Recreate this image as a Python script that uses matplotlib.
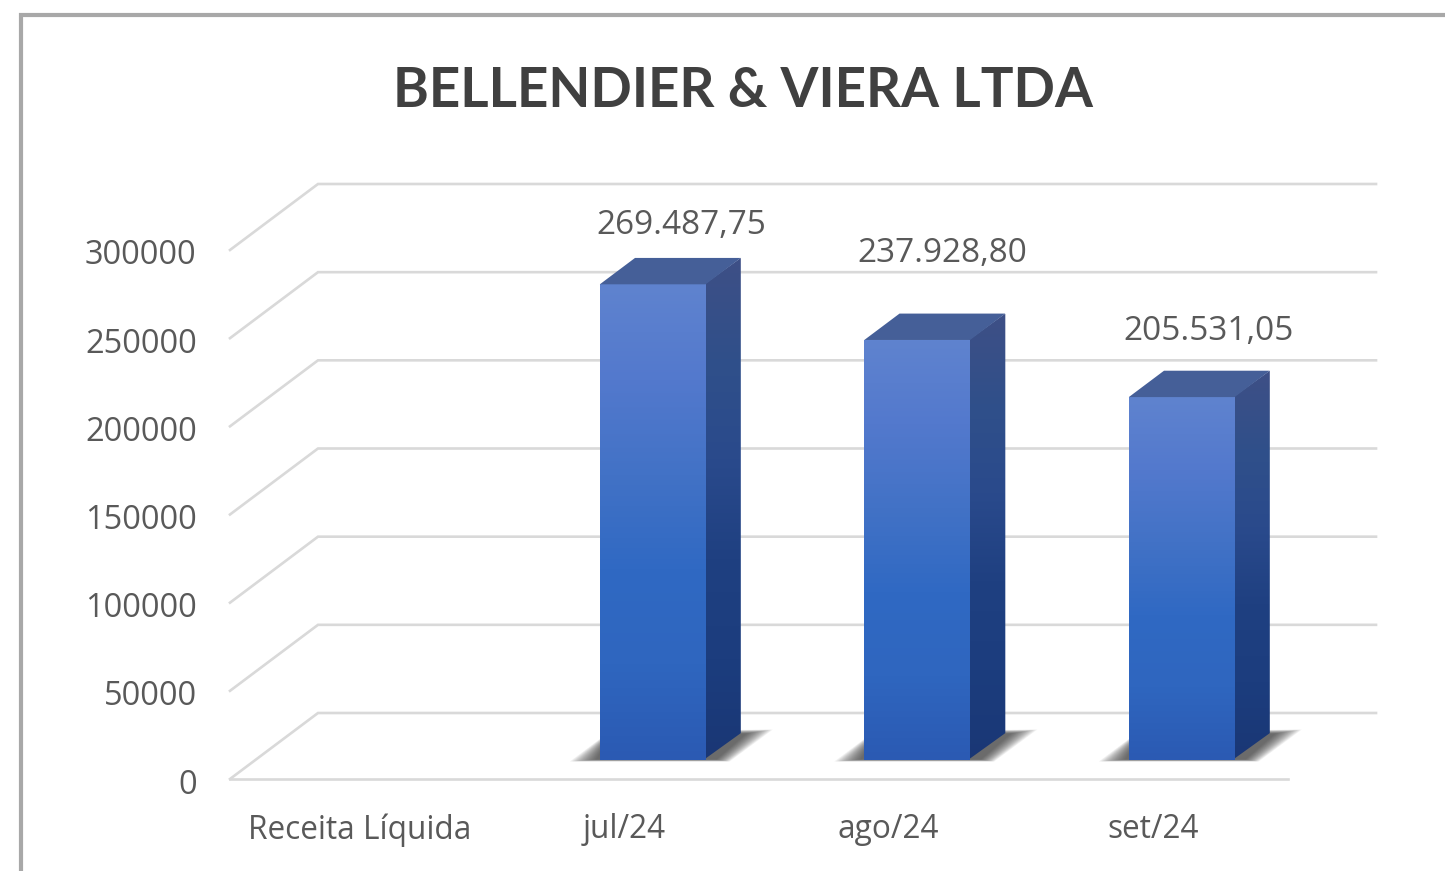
import numpy as np
import matplotlib
matplotlib.use("Agg")
import matplotlib.pyplot as plt
from matplotlib.colors import LinearSegmentedColormap
from matplotlib.lines import Line2D
from matplotlib.patches import Polygon
from matplotlib.transforms import Affine2D, IdentityTransform

TITLE = "BELLENDIER & VIERA LTDA"
categories = ["Receita Líquida", "jul/24", "ago/24", "set/24"]
values = [None, 269487.75, 237928.80, 205531.05]
value_labels = ["", "269.487,75", "237.928,80", "205.531,05"]
label_offsets = [(0, 0), (29, 59), (25, 86), (27, 66)]
yticks = [0, 50000, 100000, 150000, 200000, 250000, 300000]

W, H = 1445, 871
DEPTH = (88, 66)
BAR_START, BAR_SPAN = 0.295, 0.4
BAR_W = 0.4
GRID = "#d9d9d9"
TXT = "#595959"

fig = plt.figure(figsize=(W / 100, H / 100), dpi=100, facecolor="white")
ax = fig.add_axes([230 / W, (H - 779) / H, 1058 / W, 529 / H], facecolor="none")
ax.set_xlim(0, len(categories))
ax.set_ylim(0, 300000)
for s in ax.spines.values():
    s.set_visible(False)
ax.set_yticks(yticks, [str(t) for t in yticks], fontfamily="Open Sans", fontsize=23.5, color=TXT)
ax.set_xticks([i + 0.49 for i in range(len(categories))], categories,
              fontfamily="Open Sans", fontsize=22.8, color=TXT)
ax.tick_params(axis="y", length=0, pad=24)
ax.tick_params(axis="x", length=0, pad=24.5)
for lab in ax.get_yticklabels():
    lab.set_transform(lab.get_transform() + Affine2D().translate(0, -2))

px = IdentityTransform()


def disp(x, y):
    return ax.transData.transform((x, y))


# walls
xr = len(categories)
for t in yticks:
    p0 = disp(0, t)
    p1 = p0 + DEPTH
    p2 = disp(xr, t) + DEPTH
    ax.add_line(Line2D([p0[0], p1[0], p2[0]], [p0[1], p1[1], p2[1]], transform=px,
                       color=GRID, lw=1.9, clip_on=False, zorder=1, solid_joinstyle="miter"))
p0, p1 = disp(0, 0), disp(xr, 0)
ax.add_line(Line2D([p0[0], p1[0]], [p0[1], p1[1]], transform=px, color=GRID, lw=1.9,
                   clip_on=False, zorder=1))

front_cmap = LinearSegmentedColormap.from_list(
    "front", ["#5f83cf", "#5379cd", "#4272c6", "#3069c3", "#2f66bf", "#2b5ab3"])
side_cmap = LinearSegmentedColormap.from_list(
    "side", ["#3e4f86", "#30508a", "#2a4a8c", "#1f4081", "#1c3d7e", "#1a3775"])
grad = np.linspace(0, 1, 256)[:, None]

for i, v in enumerate(values):
    if v is None:
        continue
    x0 = i + 0.5 - BAR_W / 2
    x1 = i + 0.5 + BAR_W / 2
    off = np.array(DEPTH) * BAR_START
    dep = np.array(DEPTH) * BAR_SPAN
    bl = disp(x0, 0) + off
    br = disp(x1, 0) + off
    tl = disp(x0, v) + off
    tr = disp(x1, v) + off

    # blurred floor shadow
    for k in range(18):
        f = k / 17
        inset = 26 * f
        shadow = np.array([
            [bl[0] - 30 + inset, bl[1] - 2 + 2 * f],
            [bl[0] + 10, bl[1] + 28 - 4 * f],
            [br[0] + dep[0] + 32 - inset, bl[1] + 30 - 4 * f],
            [br[0] + 24 - 0.5 * inset, bl[1] - 2 + 2 * f],
        ])
        ax.add_patch(Polygon(shadow, closed=True, transform=px, facecolor="#2a2a2a",
                             edgecolor="none", alpha=0.06, clip_on=False, zorder=2))

    # right face, started a pixel behind the front face
    start = br - (1.5, 0)
    side = Polygon([start, br + dep, tr + dep, tr - (1.5, 0)], closed=True, transform=px,
                   facecolor="none", edgecolor="none")
    ax.add_patch(side)
    im2 = ax.imshow(grad, cmap=side_cmap, aspect="auto",
                    extent=[start[0], br[0] + dep[0], bl[1], tl[1] + dep[1]],
                    origin="upper", transform=px, zorder=3)
    im2.set_clip_path(side)
    # front face
    ax.imshow(grad, cmap=front_cmap, aspect="auto", extent=[bl[0], br[0], bl[1], tl[1]],
              origin="upper", transform=px, clip_on=False, zorder=4)
    # top face
    ax.add_patch(Polygon([tl, tr, tr + dep, tl + dep], closed=True, transform=px,
                         facecolor="#455f98", edgecolor="none", clip_on=False, zorder=5))
    # value label
    dx, dy = label_offsets[i]
    ax.annotate(value_labels[i], xy=(i + 0.5, v), xycoords="data",
                xytext=(off[0] + dx, dy + off[1]), textcoords="offset pixels",
                ha="center", va="center", fontfamily="Open Sans", fontsize=24, color=TXT,
                zorder=6, annotation_clip=False)

ax.set_xlim(0, len(categories))
ax.set_ylim(0, 300000)

fig.text(743 / W, 1 - 91 / H, TITLE, ha="center", va="center", fontfamily="Lato",
         fontweight="bold", fontsize=39.3, color="#404040")

frame = "#a8a8a8"
fig.add_artist(Line2D([20.5 / W, 20.5 / W, 1], [0, 1 - 15 / H, 1 - 15 / H], transform=fig.transFigure,
                      color=frame, lw=3, solid_joinstyle="miter"))

fig.savefig("out.png", dpi=100, facecolor="white")
